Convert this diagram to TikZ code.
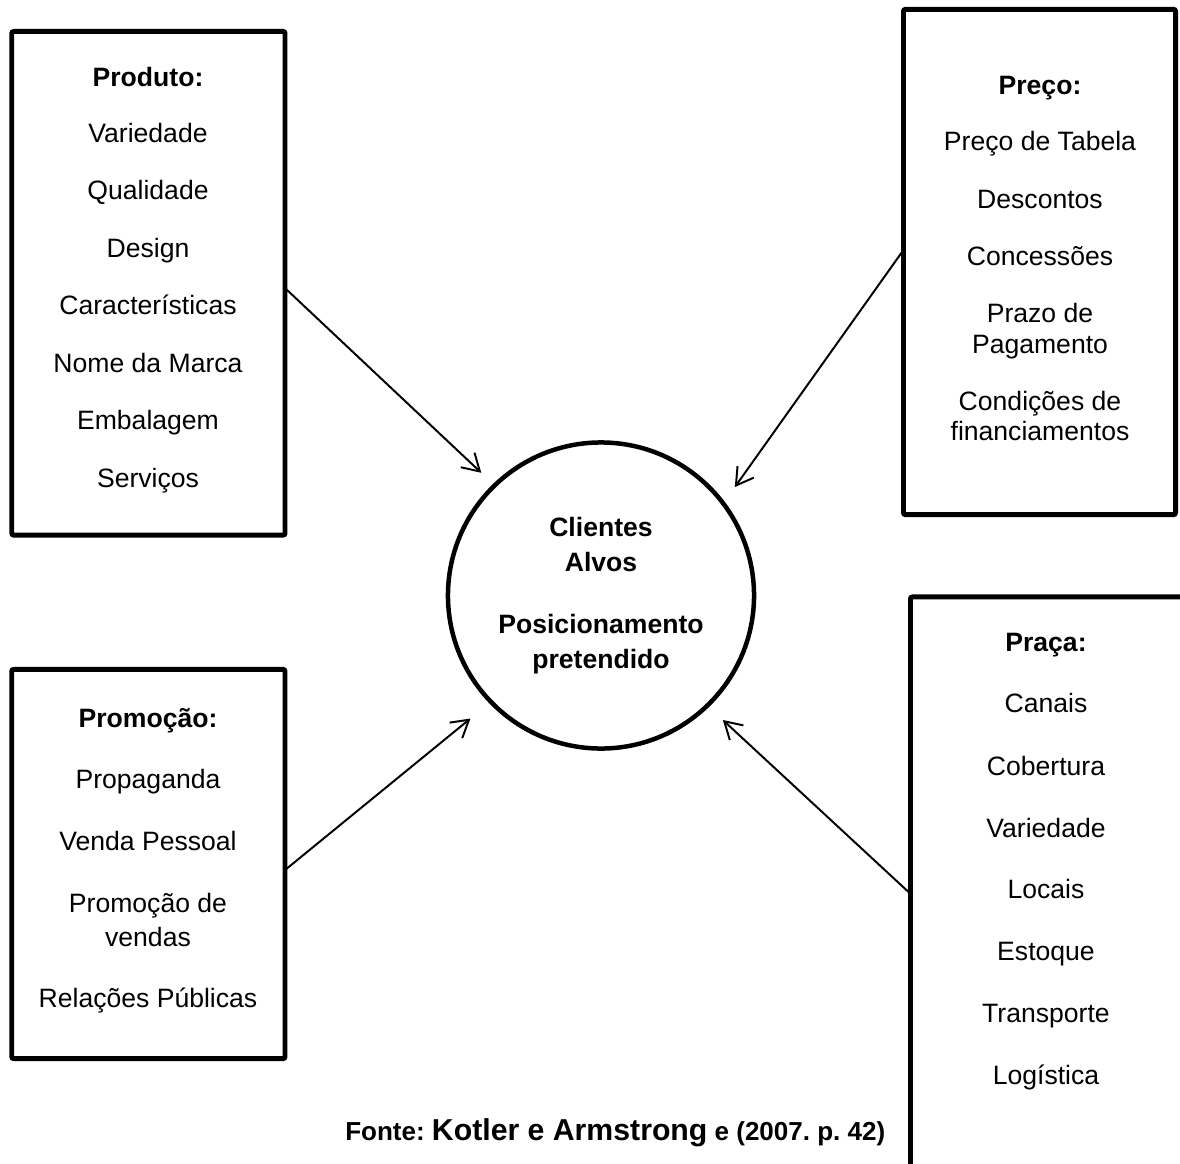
\documentclass[tikz,border=0pt]{standalone}
\usepackage{fontspec}
\setmainfont{Liberation Sans}
\usetikzlibrary{arrows.meta}
\frenchspacing

\begin{document}
\begin{tikzpicture}[x=0.025cm, y=-0.025cm,
    caixa/.style={draw, line width=3.5pt, rounded corners=0.05cm, inner sep=0pt, outer sep=0pt},
    item/.style={font=\fontsize{18.9}{22}\selectfont, text height=13.5pt, text depth=0pt, inner sep=0pt},
    titulo/.style={item, font=\fontsize{18.9}{22}\selectfont\bfseries},
    seta/.style={line width=1.4pt, -{Straight Barb[length=0.42cm, width=0.5cm]}}]
    \useasboundingbox (0,0) rectangle (1180,1164);
    \clip (0,0) rectangle (1180,1164);

    % caixas
    \node[caixa, minimum width=6.83cm, minimum height=12.59cm] (produto) at (148.4,283.3) {};
    \node[caixa, minimum width=6.8cm, minimum height=12.63cm] (preco) at (1039.5,262) {};
    \node[caixa, minimum width=6.83cm, minimum height=9.73cm] (promocao) at (148.4,864) {};
    \node[caixa, minimum width=8.5cm, minimum height=16.4cm] (praca) at (1080.5,925) {};

    % centro
    \node[circle, draw, line width=3.2pt, minimum size=7.65cm, inner sep=0pt, outer sep=0pt,
          align=center, font=\fontsize{18.9}{24.9}\selectfont\bfseries] (clientes) at (601,595.5)
          {Clientes\\Alvos\\[19pt]Posicionamento\\pretendido};

    % Produto
    \node[titulo] (produto-t) at (148,77) {Produto:};
    \foreach \y/\txt [count=\i] in {133/Variedade, 190/Qualidade, 248/Design, 305/Características,
                                    363/Nome da Marca, 420/Embalagem, 478/Serviços}
        \node[item] (produto-\i) at (148,\y) {\txt};

    % Preço
    \node[titulo] (preco-t) at (1040,85) {Preço:};
    \foreach \y/\txt [count=\i] in {141/Preço de Tabela, 199/Descontos, 256/Concessões, 313/Prazo de,
                                    344/Pagamento, 401/Condições de, 431/financiamentos}
        \node[item] (preco-\i) at (1040,\y) {\txt};

    % Promoção
    \node[titulo] (promocao-t) at (148,718) {Promoção:};
    \foreach \y/\txt [count=\i] in {779/Propaganda, 841/Venda Pessoal, 903/Promoção de, 937/vendas,
                                    998/Relações Públicas}
        \node[item] (promocao-\i) at (148,\y) {\txt};

    % Praça
    \node[titulo] (praca-t) at (1046,642) {Praça:};
    \foreach \y/\txt [count=\i] in {703/Canais, 766/Cobertura, 828/Variedade, 889/Locais,
                                    951/Estoque, 1013/Transporte, 1075/Logística}
        \node[item] (praca-\i) at (1046,\y) {\txt};

    % setas
    \draw[seta, shorten >=0.46cm] ([yshift=-0.12cm]produto.east) -- (clientes.134);
    \draw[seta, shorten >=0.5cm] ([yshift=0.3cm]preco.west) -- (clientes.37.6);
    \draw[seta, shorten >=0.66cm] ([yshift=-0.15cm]promocao.east) -- (clientes.224.3);
    \draw[seta, shorten >=0.53cm] ([yshift=0.78cm]praca.west) -- (clientes.314.5);

    % fonte
    \node[anchor=base west, inner sep=0pt, font=\fontsize{18.5}{22}\selectfont\bfseries] (fonte) at (345,1140)
        {Fonte: {\fontsize{21.5}{26}\selectfont Kotler e Armstrong} e (2007. p. 42)};
\end{tikzpicture}
\end{document}
